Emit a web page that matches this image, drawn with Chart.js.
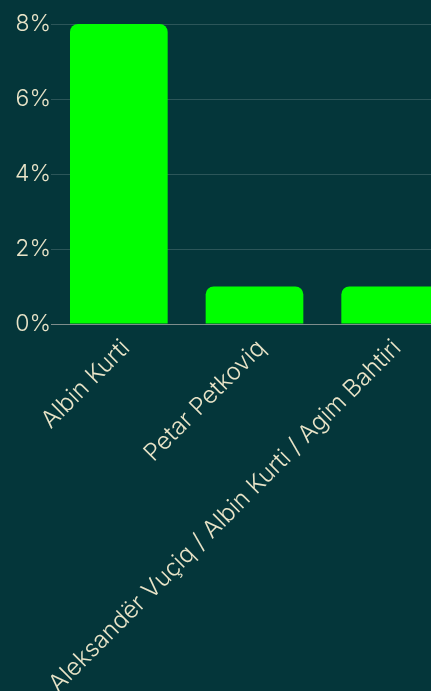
<!DOCTYPE html>
<html>
<head>
<meta charset="utf-8">
<script src="https://cdn.jsdelivr.net/npm/chart.js@4"></script>
<style>
  html, body { margin: 0; padding: 0; background: #04363a; overflow: hidden; width: 431px; height: 691px; }
  #wrap { position: absolute; left: 0; top: 0; width: 458px; height: 691px; }
</style>
</head>
<body>
<div id="wrap"><canvas id="c"></canvas></div>
<script>
const categories = ["Albin Kurti", "Petar Petkoviq", "Aleksandër Vuçiq / Albin Kurti / Agim Bahtiri"];
const values = [8, 1, 1];
const yTicks = [0, 2, 4, 6, 8];

const textColor = '#e9e4c8';
const fontFamily = 'Inter, "Open Sans", sans-serif';

new Chart(document.getElementById('c'), {
  type: 'bar',
  data: {
    labels: categories,
    datasets: [{
      data: values,
      backgroundColor: '#00ff00',
      borderRadius: 8,
      borderSkipped: 'start',
      barPercentage: 0.8,
      categoryPercentage: 0.9
    }]
  },
  options: {
    responsive: true,
    maintainAspectRatio: false,
    animation: false,
    layout: { padding: { top: 24, right: 0, left: 0, bottom: 0 } },
    plugins: { legend: { display: false }, tooltip: { enabled: false } },
    scales: {
      x: {
        grid: { display: false },
        border: { display: true, color: '#7f8d8c', width: 1 },
        ticks: {
          color: textColor,
          font: { family: fontFamily, size: 24, weight: 300 },
          minRotation: 45, maxRotation: 45,
          padding: 2,
          labelOffset: 7
        },
        afterFit: (s) => { s.height = 367; }
      },
      y: {
        min: 0, max: 8,
        afterBuildTicks: (s) => { s.ticks = yTicks.map(v => ({ value: v })); },
        grid: {
          color: (ctx) => ctx.tick && ctx.tick.value === 0 ? '#7f8d8c' : 'rgba(255,255,255,0.16)',
          drawTicks: false
        },
        border: { display: false },
        ticks: {
          color: textColor,
          font: { family: fontFamily, size: 23, weight: 300 },
          padding: 0,
          callback: (v) => v + '%'
        },
        afterFit: (s) => { s.width = 51; }
      }
    }
  }
});
</script>
</body>
</html>
